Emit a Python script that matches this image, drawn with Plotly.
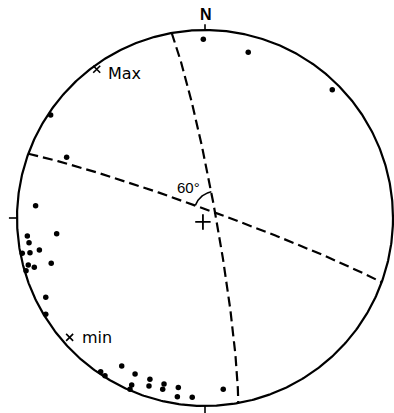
import numpy as np
import plotly.graph_objects as go

# Poles plotted on the lower-hemisphere equal-area net (x = east, y = north, unit primitive)
pole_x = [-0.009, 0.230, 0.677, -0.821, -0.736, -0.901, -0.789, -0.945, -0.936, -0.881,
          -0.931, -0.972, -0.818, -0.940, -0.908, -0.952, -0.847, -0.847, -0.443, -0.555,
          -0.532, -0.372, -0.293, -0.390, -0.399, -0.298, -0.218, -0.225, -0.142, -0.147,
          -0.068, 0.097]
pole_y = [0.951, 0.881, 0.682, 0.548, 0.323, 0.065, -0.084, -0.096, -0.131, -0.170,
          -0.185, -0.188, -0.241, -0.250, -0.262, -0.280, -0.422, -0.512, -0.787, -0.818,
          -0.839, -0.830, -0.858, -0.888, -0.911, -0.894, -0.883, -0.911, -0.901, -0.951,
          -0.954, -0.911]

# Principal axes
axis_names = ["Max", "min"]
axis_x = [-0.576, -0.720]
axis_y = [0.791, -0.635]

# Two planes: dip direction / dip (degrees)
plane_dipdir = [79.8, 20.0]
plane_dip = [85.3, 86.3]
angle_label = "60°"


def great_circle(dd, dip, n=241):
    a = np.radians(dd)
    d = np.radians(dip)
    st = a - np.pi / 2
    s = np.array([np.sin(st), np.cos(st), 0.0])
    dv = np.array([np.sin(a) * np.cos(d), np.cos(a) * np.cos(d), -np.sin(d)])
    t = np.linspace(0, np.pi, n)
    v = np.outer(np.cos(t), s) + np.outer(np.sin(t), dv)
    k = 1.0 / np.sqrt(1.0 - v[:, 2])
    return v[:, 0] * k, v[:, 1] * k


def pole_vec(dd, dip):
    a = np.radians(dd)
    d = np.radians(dip)
    return np.array([np.sin(a) * np.sin(d), np.cos(a) * np.sin(d), np.cos(d)])


fig = go.Figure()

# primitive circle
th = np.linspace(0, 2 * np.pi, 721)
fig.add_trace(go.Scatter(x=np.cos(th), y=np.sin(th), mode="lines",
                         line=dict(color="black", width=2.2), hoverinfo="skip"))

# cardinal ticks
tk = 0.043
fig.add_trace(go.Scatter(
    x=[0, 0, None, -1, -1 - tk, None, 0, 0, None, 1, 1 + tk],
    y=[1, 1 + 0.03, None, 0, 0, None, -1, -1 - tk, None, 0, 0],
    mode="lines", line=dict(color="black", width=1.6), hoverinfo="skip"))

# plane traces
for dd, dp in zip(plane_dipdir, plane_dip):
    gx, gy = great_circle(dd, dp)
    fig.add_trace(go.Scatter(x=gx, y=gy, mode="lines",
                             line=dict(color="black", width=2.2, dash="10px,5px"),
                             hoverinfo="skip"))

# intersection of the two planes and the angle arc between them
L = np.cross(pole_vec(plane_dipdir[0], plane_dip[0]), pole_vec(plane_dipdir[1], plane_dip[1]))
if L[2] > 0:
    L = -L
L = L / np.linalg.norm(L)
ix, iy = L[0] / np.sqrt(1 - L[2]), L[1] / np.sqrt(1 - L[2])
az = np.radians(np.linspace(plane_dipdir[1] - 90 + 360, plane_dipdir[0] - 90 + 360, 40))
rr = 0.112
fig.add_trace(go.Scatter(x=ix + rr * np.sin(az), y=iy + rr * np.cos(az), mode="lines",
                         line=dict(color="black", width=1.6), hoverinfo="skip"))

# poles
fig.add_trace(go.Scatter(x=pole_x, y=pole_y, mode="markers",
                         marker=dict(color="black", size=5.5), hoverinfo="skip"))

# principal axes
fig.add_trace(go.Scatter(x=axis_x, y=axis_y, mode="markers",
                         marker=dict(symbol="x-thin", size=7, color="black",
                                     line=dict(width=1.6, color="black")),
                         hoverinfo="skip"))

# centre mark
fig.add_trace(go.Scatter(x=[-0.011], y=[-0.021], mode="markers",
                         marker=dict(symbol="cross-thin", size=11, color="black",
                                     line=dict(width=1.8, color="black")),
                         hoverinfo="skip"))

annotations = [
    dict(x=0.005, y=1.085, text="<b>N</b>", xanchor="center", yanchor="middle",
         font=dict(family="Liberation Sans", size=16, color="black")),
    dict(x=axis_x[0] + 0.049, y=axis_y[0] - 0.02, text=axis_names[0], xanchor="left",
         yanchor="middle", font=dict(family="DejaVu Sans", size=16, color="black")),
    dict(x=axis_x[1] + 0.055, y=axis_y[1] + 0.002, text=axis_names[1], xanchor="left",
         yanchor="middle", font=dict(family="DejaVu Sans", size=16, color="black")),
    dict(x=-0.090, y=0.160, text=angle_label, xanchor="center", yanchor="middle",
         font=dict(family="Liberation Sans", size=15, color="black")),
]
for a in annotations:
    a.update(xref="x", yref="y", showarrow=False)

fig.update_layout(
    width=394, height=413, margin=dict(l=0, r=0, t=0, b=0),
    paper_bgcolor="white", plot_bgcolor="white", showlegend=False,
    annotations=annotations,
    xaxis=dict(range=[-205 / 188, 189 / 188], visible=False, fixedrange=True),
    yaxis=dict(range=[-195 / 188, 218 / 188], visible=False, fixedrange=True),
)

fig.write_html("out.html")
